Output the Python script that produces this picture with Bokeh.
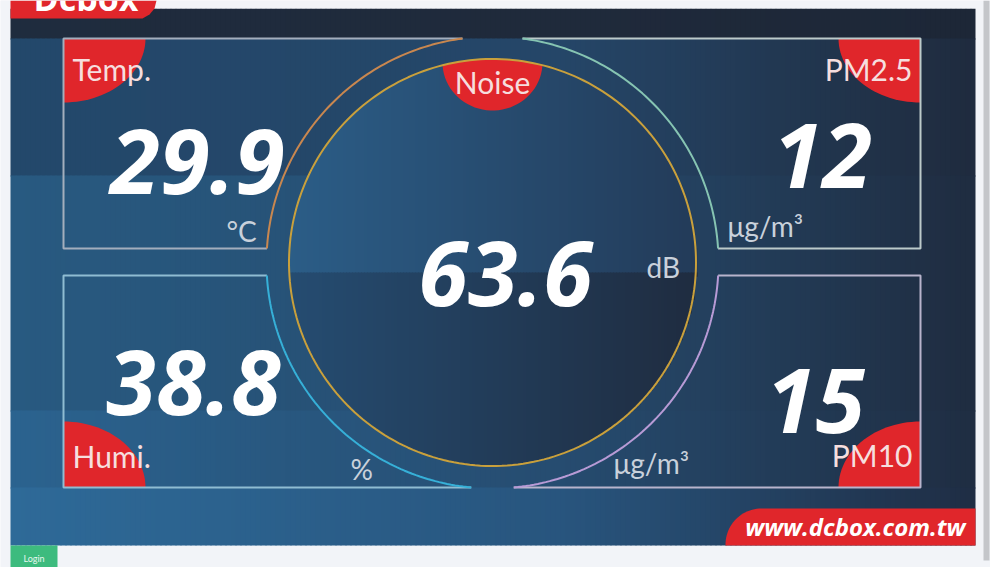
import numpy as np
from bokeh.plotting import figure
from bokeh.models import Range1d
from bokeh.core.properties import value
from bokeh.embed import file_html
from bokeh.resources import INLINE

# ---------------- data ----------------
labels = ["Temp.", "PM2.5", "Humi.", "PM10", "Noise"]
readings = [29.9, 12, 38.8, 15, 63.6]
reading_text = ["29.9", "12", "38.8", "15", "63.6"]
units = ["°C", "μg/m³", "%", "μg/m³", "dB"]
site = "www.dcbox.com.tw"
brand = "Dcbox"
login = "Login"

# ---------------- layout (page pixel coordinates) ----------------
W, H = 990, 567
PX0, PX1, PY0, PY1 = 10, 975, 8, 545      # dark panel
BX0, BX1 = 63, 920                          # boxes left/right
TY0, TY1 = 38, 248                          # top boxes
BY0, BY1 = 275, 487                         # bottom boxes
CX, CY = 492, 262                           # ring centre
SPLIT = 272                                 # shade split inside circle
R_IN, R_OUT = 203.5, 226
LIGHT = "#f2f4f8"

p = figure(width=W, height=H, output_backend="svg", toolbar_location=None,
           x_range=Range1d(0, W), y_range=Range1d(H, 0),
           min_border=0, outline_line_color=None,
           background_fill_color=LIGHT, border_fill_color=LIGHT)
p.axis.visible = False
p.grid.visible = False


def hex2rgb(h):
    h = h.lstrip("#")
    return np.array([int(h[i:i + 2], 16) for i in (0, 2, 4)], float)


def grad(stops, t):
    xs = [s[0] for s in stops]
    cols = [hex2rgb(s[1]) for s in stops]
    out = []
    for tt in t:
        c = [np.interp(tt, xs, [cc[k] for cc in cols]) for k in range(3)]
        out.append("#%02x%02x%02x" % tuple(int(round(v)) for v in c))
    return out


def yb(y, size):
    # renderer places the alphabetic baseline ~0.39em below the anchor
    return y - 0.39 * size


# ---------------- background panel ----------------
step = 5
sx = np.arange(PX0, PX1, step, dtype=float)
ex = np.minimum(sx + step + 1.0, PX1)
mid = sx + step / 2
bands = [
    (8, 38, [(10, "#1f2c3e"), (560, "#1f2a3b"), (975, "#1d2737")]),
    (38, 175, [(10, "#23486b"), (560, "#254668"), (975, "#1f2b3e")]),
    (175, 410, [(10, "#285a81"), (560, "#264b6e"), (975, "#1f2c40")]),
    (410, 487, [(10, "#2b638f"), (560, "#264c70"), (975, "#1f2d42")]),
    (487, 545, [(10, "#2e6a98"), (560, "#28557e"), (975, "#1f2d44")]),
]
for (y0, y1, st) in bands:
    cols = grad(st, mid)
    p.quad(left=sx, right=ex, top=np.full_like(sx, y0), bottom=np.full_like(sx, min(y1 + 1, PY1)),
           fill_color=cols, line_color=None)

# circle interior (two shades)
cs = 3.0
cx_s = np.arange(CX - R_IN, CX + R_IN, cs)
cx_e = cx_s + cs + 0.8
cm = cx_s + cs / 2
half = np.sqrt(np.clip(R_IN ** 2 - (cm - CX) ** 2, 0, None))
top_y = CY - half
bot_y = CY + half
p.quad(left=cx_s, right=cx_e, top=top_y, bottom=np.minimum(np.full_like(cm, SPLIT + 1), bot_y),
       fill_color=grad([(CX - R_IN, "#2b5d87"), (CX + R_IN, "#233b59")], cm), line_color=None)
lo_mask = bot_y > SPLIT
p.quad(left=cx_s[lo_mask], right=cx_e[lo_mask], top=np.full(lo_mask.sum(), SPLIT), bottom=bot_y[lo_mask],
       fill_color=grad([(CX - R_IN, "#254c71"), (CX + R_IN, "#1f2c40")], cm[lo_mask]), line_color=None)

# ---------------- red corner tabs ----------------
red = "#e0262b"
t = np.linspace(0, np.pi / 2, 30)
corners = [(BX0, TY0, 1, 1, 82, 64), (BX1, TY0, -1, 1, 82, 64),
           (BX0, BY1, 1, -1, 82, 66), (BX1, BY1, -1, -1, 82, 66)]
for (cx0, cy0, sxn, syn, rx, ry) in corners:
    xs = [cx0] + list(cx0 + sxn * rx * np.cos(t)) + [cx0]
    ys = [cy0] + list(cy0 + syn * ry * np.sin(t)) + [cy0]
    p.patch(xs, ys, fill_color=red, line_color=None)

# noise tab (top follows the inner circle)
tt = np.linspace(0, np.pi, 40)
nx = list(CX + 50 * np.cos(tt))
ny = list(62 + 48 * np.sin(tt))
ax = np.linspace(CX - 50, CX + 50, 30)
ay = CY - np.sqrt(R_IN ** 2 - (ax - CX) ** 2)
p.patch(nx + list(ax), ny + list(ay), fill_color=red, line_color=None)

# ---------------- box outlines ----------------
def arc_pts(a0, a1, n=80):
    a = np.linspace(a0, a1, n)
    return CX + R_OUT * np.cos(a), CY + R_OUT * np.sin(a)


def ang(x, y):
    return np.arctan2(y - CY, x - CX)


def xcirc(y, side):
    return CX + side * np.sqrt(R_OUT ** 2 - (y - CY) ** 2)

lw = 2
# Temp
xa, xb = xcirc(TY0, -1), xcirc(TY1, -1)
p.line([xb, BX0, BX0, xa], [TY1, TY1, TY0, TY0], line_color="#a3aebd", line_width=lw)
ax_, ay_ = arc_pts(ang(xa, TY0) - 2 * np.pi, ang(xb, TY1) - 2 * np.pi)
p.line(ax_, ay_, line_color="#c9874f", line_width=lw)
# PM2.5
xa, xb = xcirc(TY0, 1), xcirc(TY1, 1)
p.line([xa, BX1, BX1, xb], [TY0, TY0, TY1, TY1], line_color="#bccaca", line_width=lw)
ax_, ay_ = arc_pts(ang(xa, TY0), ang(xb, TY1))
p.line(ax_, ay_, line_color="#86c4b2", line_width=lw)
# Humi
xa, xb = xcirc(BY0, -1), xcirc(BY1, -1)
p.line([xa, BX0, BX0, xb], [BY0, BY0, BY1, BY1], line_color="#8fbcd2", line_width=lw)
ax_, ay_ = arc_pts(ang(xa, BY0), ang(xb, BY1))
p.line(ax_, ay_, line_color="#36b0d8", line_width=lw)
# PM10
xa, xb = xcirc(BY0, 1), xcirc(BY1, 1)
p.line([xa, BX1, BX1, xb], [BY0, BY0, BY1, BY1], line_color="#b8b4cc", line_width=lw)
ax_, ay_ = arc_pts(ang(xa, BY0), ang(xb, BY1))
p.line(ax_, ay_, line_color="#b89bd6", line_width=lw)
# inner gold circle
a = np.linspace(0, 2 * np.pi, 240)
p.line(CX + R_IN * np.cos(a), CY + R_IN * np.sin(a), line_color="#c9a03c", line_width=2)

# ---------------- texts ----------------
thin = value("Lato")
big = value("Open Sans")

LAB_FS, VAL_FS, UNIT_FS = 30, 90, 28
lab_x = [72, 912, 72, 912, CX]
lab_y = [80, 80, 467, 466, 93]
lab_al = ["left", "right", "left", "right", "center"]
p.text(x=lab_x, y=[yb(v, LAB_FS) for v in lab_y], text=labels, text_align=lab_al,
       text_baseline="alphabetic", text_font=thin, text_font_size=f"{LAB_FS}px", text_color="#f6dede")

val_x = [197, 822, 193, 815, 505]
val_y = [196, 190, 417, 435, 308]
p.text(x=val_x, y=[yb(v, VAL_FS) for v in val_y], text=reading_text, text_align="center",
       text_baseline="alphabetic", text_font=big, text_font_style="bold italic",
       text_font_size=f"{VAL_FS}px", text_color="#ffffff")

unit_x = [226, 727, 350, 613, 646]
unit_y = [241, 236, 479, 473, 277]
p.text(x=unit_x, y=[yb(v, UNIT_FS) for v in unit_y], text=units, text_align="left",
       text_baseline="alphabetic", text_font=thin, text_font_size=f"{UNIT_FS}px", text_color="#c9d1db")

# ---------------- site tab ----------------
rr = 36
ta = np.linspace(np.pi, 1.5 * np.pi, 25)
sxp = [725] + list(725 + rr + rr * np.cos(ta)) + [PX1, PX1]
syp = [PY1] + list(508 + rr + rr * np.sin(ta)) + [508, PY1]
p.patch(sxp, syp, fill_color=red, line_color=None)
SITE_FS = 24
p.text(x=[965], y=[yb(535, SITE_FS)], text=[site], text_align="right", text_baseline="alphabetic",
       text_font=big, text_font_style="bold italic", text_font_size=f"{SITE_FS}px", text_color="#ffffff")

# ---------------- top margin strip + brand tab (cut at the page top) ----------------
p.quad(left=[0], right=[W], top=[0], bottom=[PY0], fill_color=LIGHT, line_color=None)
p.patch([PX0, 146, 156, 154, 149, 142, PX0], [0, 0, 0, 8, 14, 18, 18], fill_color=red, line_color=None)
BR_FS = 34
p.text(x=[33], y=[yb(11, BR_FS)], text=[brand], text_align="left", text_baseline="alphabetic",
       text_font=big, text_font_style="bold", text_font_size=f"{BR_FS}px", text_color="#ffffff")

# ---------------- scrollbar strip ----------------
p.quad(left=[983], right=[989], top=[0], bottom=[560], fill_color="#c4c6ca", line_color=None)

# ---------------- login button ----------------
p.quad(left=[PX0], right=[57], top=[PY1], bottom=[H], fill_color="#3dbb7e", line_color=None)
p.text(x=[33.5], y=[558], text=[login], text_align="center", text_baseline="middle",
       text_font=thin, text_font_size="9px", text_color="#e8f7ef")

open("out.html", "w").write(file_html(p, INLINE))
